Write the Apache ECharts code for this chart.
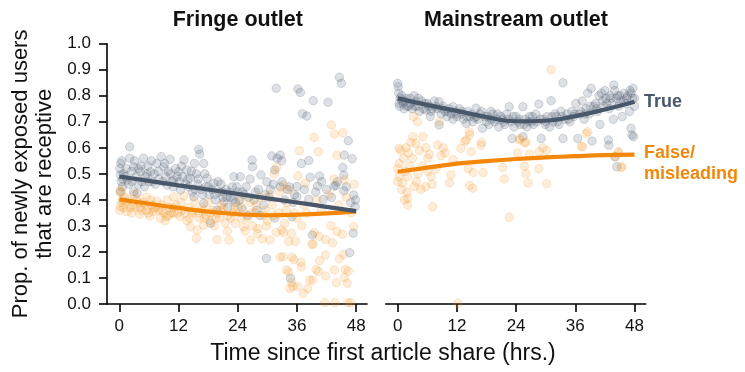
<!DOCTYPE html>
<html>
<head>
<meta charset="utf-8">
<script src="https://cdn.jsdelivr.net/npm/echarts@6/dist/echarts.min.js"></script>
<style>
  html, body { margin: 0; padding: 0; background: #fff; }
  #chart { width: 745px; height: 372px; }
</style>
</head>
<body>
<div id="chart"></div>
<script>
// Hours since the first share of an article, and the share of newly exposed users who are receptive.
const xTicks = [0, 12, 24, 36, 48];

// Fringe outlet: observed points [hours, proportion]
const fringeTrue = [
  [0.1,0.52],[0.3,0.54],[0.5,0.55],[0.2,0.496],[0.4,0.47],[0.2,0.43],[0.6,0.45],[0.8,0.50],[1.2,0.49],[1.6,0.476],
  [2.1,0.604],[2.1,0.56],[2.5,0.51],[2.9,0.527],[2.9,0.431],[3.4,0.49],[3.6,0.425],[3.9,0.52],[4.3,0.508],[4.6,0.47],
  [4.9,0.56],[5.3,0.49],[5.8,0.53],[6.3,0.508],[6.7,0.47],[7.1,0.50],[7.6,0.54],[8.0,0.48],[8.5,0.566],[9.0,0.527],
  [9.4,0.49],[9.7,0.457],[10.3,0.556],[10.3,0.50],[10.7,0.47],[11.0,0.476],[11.4,0.52],[12.0,0.508],[12.4,0.438],[12.8,0.49],
  [13.1,0.553],[13.4,0.46],[13.7,0.515],[14.1,0.45],[14.4,0.483],[14.8,0.43],[15.1,0.412],[15.2,0.54],[15.6,0.50],[15.9,0.46],
  [16.1,0.594],[16.3,0.576],[16.6,0.44],[17.1,0.54],[17.1,0.387],[17.5,0.45],[17.8,0.483],[18.2,0.42],[18.5,0.31],[18.8,0.44],
  [19.1,0.464],[19.5,0.40],[19.8,0.361],[20.2,0.43],[20.6,0.46],[21.0,0.41],[21.2,0.393],[21.6,0.44],[22.0,0.37],[22.5,0.41],
  [22.9,0.45],[23.2,0.489],[23.5,0.39],[24.0,0.43],[24.5,0.489],[24.8,0.37],[25.3,0.42],[25.7,0.45],[26.0,0.34],[26.5,0.48],
  [26.9,0.553],[27.0,0.527],[27.3,0.40],[27.8,0.36],[28.2,0.44],[28.5,0.34],[28.7,0.496],[29.2,0.38],[29.8,0.175],[29.9,0.47],
  [30.3,0.41],[30.9,0.569],[31.5,0.515],[31.5,0.33],[31.8,0.829],[32.0,0.56],[32.6,0.572],[32.6,0.45],[32.9,0.55],[33.5,0.40],
  [34.0,0.44],[34.7,0.099],[35.0,0.335],[35.5,0.42],[36.0,0.451],[36.0,0.412],[36.2,0.826],[36.7,0.813],[36.9,0.54],[37.1,0.731],
  [38.0,0.722],[38.4,0.551],[38.4,0.402],[38.7,0.487],[39.1,0.265],[39.3,0.781],[40.2,0.453],[40.6,0.492],[41.3,0.402],[42.0,0.44],
  [42.3,0.775],[43.5,0.453],[43.9,0.455],[44.6,0.871],[45.0,0.848],[45.3,0.524],[45.5,0.495],[45.5,0.435],[45.6,0.572],[46.4,0.627],
  [46.7,0.197],[46.9,0.39],[47.2,0.558],[47.4,0.272],[47.5,0.419],[47.8,0.374],
  [0.7,0.48],[1.4,0.52],[1.9,0.46],[2.6,0.47],[3.1,0.55],[3.8,0.46],[4.4,0.53],[5.1,0.45],[5.6,0.50],[6.0,0.47],
  [6.5,0.55],[7.3,0.46],[7.9,0.51],[8.8,0.47],[9.2,0.54],[9.9,0.51],[10.9,0.45],[11.7,0.49],[12.2,0.47],[12.6,0.53],
  [13.9,0.48],[14.6,0.51],[15.4,0.44],[16.0,0.48],[16.9,0.42],[17.3,0.50],[18.0,0.45],[19.3,0.42],[20.0,0.47],[20.9,0.43],
  [21.8,0.41],[22.3,0.43],[23.0,0.40],[23.8,0.45],[24.3,0.40],[25.0,0.43],[26.2,0.41],[27.6,0.43],[29.5,0.42],[30.6,0.44],
  [31.2,0.46],[33.0,0.47],[34.5,0.45],[35.2,0.39],[37.5,0.44],[39.8,0.43],[41.0,0.47],[43.0,0.41],[44.2,0.47],[46.0,0.45],
  [47.9,0.40]
];
const fringeFalse = [
  [0.2,0.438],[0.4,0.43],[0.2,0.374],[0.1,0.36],[0.6,0.40],[1.0,0.41],[1.5,0.39],[1.5,0.355],[2.2,0.37],[2.8,0.38],
  [3.0,0.42],[3.5,0.40],[4.2,0.37],[4.2,0.345],[4.8,0.39],[5.5,0.36],[5.5,0.41],[6.2,0.338],[6.6,0.38],[6.9,0.356],
  [7.3,0.37],[7.6,0.395],[8.3,0.329],[8.7,0.36],[9.3,0.32],[9.6,0.336],[9.7,0.40],[10.2,0.37],[10.6,0.35],[11.0,0.35],
  [11.0,0.412],[11.5,0.38],[12.3,0.336],[12.7,0.36],[13.1,0.415],[13.7,0.32],[14.0,0.37],[14.4,0.297],[14.8,0.35],[15.2,0.395],
  [15.6,0.252],[15.8,0.284],[16.2,0.33],[16.6,0.37],[17.1,0.303],[17.1,0.36],[17.6,0.34],[18.0,0.39],[18.4,0.32],[18.9,0.36],
  [19.3,0.30],[19.8,0.248],[19.8,0.35],[20.3,0.33],[20.7,0.38],[21.1,0.37],[21.5,0.31],[21.9,0.28],[22.2,0.246],[22.6,0.33],
  [23.0,0.35],[23.5,0.31],[24.0,0.37],[24.5,0.40],[25.0,0.36],[25.2,0.297],[25.5,0.28],[26.0,0.33],[26.5,0.39],[26.6,0.246],
  [27.0,0.30],[27.5,0.35],[28.0,0.27],[28.1,0.29],[28.5,0.41],[29.0,0.25],[29.3,0.34],[29.8,0.30],[30.0,0.32],[30.5,0.246],
  [30.5,0.42],[31.0,0.38],[31.4,0.50],[31.8,0.275],[31.9,0.525],[32.3,0.35],[32.5,0.43],[32.6,0.18],[32.9,0.284],[33.2,0.182],
  [33.3,0.457],[33.3,0.275],[33.5,0.31],[33.9,0.131],[34.0,0.39],[34.3,0.44],[34.3,0.24],[34.3,0.123],[34.6,0.06],[34.9,0.272],
  [34.9,0.082],[35.0,0.18],[35.2,0.067],[35.4,0.17],[35.7,0.24],[36.0,0.33],[36.1,0.067],[36.2,0.492],[36.5,0.589],[36.8,0.16],
  [36.9,0.143],[37.0,0.301],[37.3,0.041],[37.4,0.38],[37.7,0.464],[38.0,0.35],[38.2,0.06],[38.6,0.092],[39.0,0.23],[39.2,0.092],
  [39.3,0.23],[39.5,0.274],[39.5,0.64],[39.9,0.133],[40.0,0.40],[40.3,0.585],[40.3,0.125],[40.5,0.26],[40.6,0.167],[41.0,0.36],
  [41.6,0.005],[41.8,0.248],[41.8,0.188],[41.8,0.108],[42.5,0.42],[42.9,0.301],[43.0,0.688],[43.2,0.235],[43.5,0.48],[43.6,0.653],
  [43.6,0.131],[43.7,0.005],[44.0,0.082],[44.1,0.571],[44.1,0.278],[44.5,0.38],[44.6,0.174],[45.2,0.268],[45.3,0.658],[45.4,0.19],
  [45.6,0.477],[45.6,0.102],[45.8,0.133],[46.0,0.41],[46.2,0.08],[46.3,0.005],[46.4,0.126],[46.9,0.005],[47.0,0.35],[47.5,0.297],
  [47.6,0.46],
  [0.5,0.39],[0.9,0.37],[1.8,0.40],[2.5,0.35],[3.2,0.37],[3.9,0.39],[4.5,0.36],[5.2,0.38],[5.9,0.35],[6.4,0.40],
  [7.0,0.37],[8.0,0.36],[8.5,0.38],[9.0,0.35],[10.0,0.34],[10.9,0.37],[11.8,0.35],[12.5,0.39],[13.3,0.35],[14.2,0.33],
  [15.0,0.36],[16.0,0.35],[17.3,0.33],[18.6,0.35],[19.6,0.33],[20.5,0.36],[22.0,0.34],[23.2,0.37],[24.7,0.33],[26.8,0.35],
  [27.8,0.38],[29.6,0.36],[31.3,0.34],[33.8,0.36],[35.5,0.35]
];

// Mainstream outlet: observed points [hours, proportion]
const mainTrue = [
  [0,0.848],[0.1,0.835],[0.2,0.81],[0.3,0.771],[0.5,0.79],[0.8,0.80],[1.1,0.77],[1.5,0.78],[1.9,0.76],[2.2,0.76],
  [2.5,0.79],[2.9,0.75],[3.3,0.80],[3.7,0.777],[4.0,0.76],[4.4,0.74],[4.8,0.78],[5.2,0.75],[5.7,0.745],[6.0,0.77],
  [6.3,0.76],[6.6,0.72],[7.0,0.75],[7.4,0.78],[8.0,0.75],[8.4,0.777],[8.4,0.688],[8.8,0.73],[9.2,0.76],[9.6,0.74],
  [10.0,0.72],[10.4,0.75],[10.8,0.73],[11.2,0.758],[11.2,0.71],[11.6,0.74],[12.0,0.72],[12.5,0.75],[12.9,0.73],[13.3,0.71],
  [13.9,0.694],[14.2,0.74],[14.6,0.72],[15.0,0.73],[15.2,0.70],[15.6,0.715],[15.9,0.752],[16.3,0.71],[16.7,0.73],[17.2,0.675],
  [17.6,0.72],[18.0,0.70],[18.5,0.69],[18.9,0.74],[19.3,0.73],[19.7,0.70],[20.1,0.71],[20.5,0.68],[20.9,0.72],[21.3,0.71],
  [21.7,0.69],[22.1,0.73],[22.6,0.758],[23.0,0.70],[23.2,0.636],[23.6,0.68],[24.0,0.72],[24.4,0.70],[24.8,0.69],[25.4,0.758],
  [25.4,0.643],[25.8,0.71],[26.2,0.68],[26.7,0.72],[27.1,0.70],[27.5,0.69],[28.0,0.73],[28.2,0.70],[28.6,0.768],[29.1,0.636],
  [29.5,0.71],[29.9,0.69],[30.3,0.72],[30.8,0.68],[31.1,0.781],[31.5,0.70],[31.9,0.73],[32.2,0.72],[32.7,0.69],[33.1,0.74],
  [33.5,0.85],[33.5,0.636],[33.9,0.71],[34.3,0.73],[34.9,0.70],[35.3,0.74],[35.7,0.72],[36.1,0.77],[36.5,0.636],[36.9,0.73],
  [37.4,0.78],[37.8,0.71],[38.2,0.75],[38.5,0.81],[38.9,0.73],[39.2,0.829],[39.4,0.626],[39.8,0.76],[40.1,0.77],[40.5,0.74],
  [41.0,0.69],[41.3,0.81],[41.7,0.76],[42.2,0.79],[42.7,0.63],[42.8,0.61],[42.9,0.75],[43.0,0.80],[43.4,0.77],[43.7,0.71],
  [43.8,0.841],[44.0,0.566],[44.3,0.79],[44.4,0.527],[44.8,0.76],[45.0,0.80],[45.5,0.72],[45.8,0.78],[46.2,0.77],[46.6,0.80],
  [47.0,0.74],[47.3,0.81],[47.3,0.675],[47.5,0.649],[47.7,0.829],[47.8,0.643],[48.0,0.79],[48.0,0.76],
  [0.4,0.76],[0.9,0.78],[1.3,0.75],[1.7,0.79],[2.6,0.77],[3.5,0.76],[4.2,0.79],[5.5,0.77],[6.8,0.74],[7.7,0.76],
  [9.0,0.75],[10.2,0.74],[11.8,0.73],[13.0,0.74],[14.0,0.72],[16.0,0.72],[17.0,0.74],[18.2,0.72],[19.0,0.71],[20.3,0.73],
  [21.5,0.70],[22.4,0.71],[23.4,0.72],[24.6,0.71],[25.6,0.69],[26.5,0.70],[27.3,0.72],[28.9,0.71],[30.0,0.70],[31.3,0.72],
  [32.4,0.70],[33.3,0.72],[34.6,0.71],[35.9,0.73],[37.1,0.74],[38.0,0.73],[39.0,0.76],[40.3,0.75],[41.5,0.78],[42.4,0.77],
  [43.2,0.79],[44.0,0.82],[44.6,0.80],[45.2,0.78],[45.9,0.81],[46.4,0.79],[47.1,0.82],[47.6,0.79],[42.0,0.82],[40.8,0.80]
];
const mainFalse = [
  [0,0.52],[0,0.47],[0.3,0.598],[0.3,0.54],[0.3,0.49],[0.6,0.59],[0.8,0.44],[1.0,0.465],[1.2,0.56],[1.4,0.40],
  [1.5,0.51],[1.7,0.60],[1.9,0.43],[2.0,0.49],[2.0,0.406],[2.0,0.38],[2.2,0.58],[2.4,0.53],[2.7,0.62],[3.0,0.56],
  [3.05,0.643],[3.2,0.72],[3.4,0.451],[3.7,0.617],[3.8,0.47],[4.0,0.70],[4.1,0.50],[4.4,0.59],[4.7,0.44],[5.0,0.53],
  [5.1,0.643],[5.7,0.60],[5.7,0.45],[6.1,0.56],[6.1,0.51],[6.4,0.575],[6.8,0.49],[7.0,0.46],[7.1,0.374],[7.8,0.52],
  [8.1,0.611],[8.4,0.70],[8.8,0.57],[9.2,0.60],[9.6,0.58],[10.5,0.465],[10.8,0.496],[11.2,0.555],[12.2,0.003],[12.8,0.598],
  [13.6,0.625],[13.9,0.63],[14.3,0.52],[14.5,0.662],[14.6,0.65],[14.6,0.455],[14.9,0.585],[15.2,0.445],[15.3,0.505],[16.9,0.61],
  [17.0,0.62],[17.3,0.505],[21.3,0.525],[21.6,0.48],[22.6,0.333],[24.3,0.58],[24.7,0.635],[24.7,0.63],[25.7,0.62],[25.7,0.53],
  [26.0,0.50],[26.0,0.62],[26.4,0.465],[26.7,0.575],[28.6,0.52],[28.7,0.585],[29.4,0.60],[30.2,0.59],[30.2,0.462],[31.1,0.90],
  [37.2,0.605],[37.5,0.604],[38.2,0.655],[38.5,0.662],[44.2,0.566],[44.7,0.585],[44.8,0.581],[45.3,0.525],[45.4,0.527]
];

// Smoothed trend for each group [hours, fitted proportion]
const fringeTrueFit  = [[0,0.490],[6,0.473],[12,0.456],[18,0.440],[24,0.423],[30,0.406],[36,0.390],[42,0.373],[48,0.357]];
const fringeFalseFit = [[0,0.402],[6,0.385],[12,0.369],[18,0.355],[24,0.345],[30,0.341],[36,0.343],[42,0.348],[48,0.356]];
const mainTrueFit    = [[0,0.790],[6,0.765],[12,0.742],[18,0.718],[24,0.702],[30,0.704],[36,0.722],[42,0.747],[48,0.777]];
const mainFalseFit   = [[0,0.508],[6,0.524],[12,0.539],[18,0.549],[24,0.557],[30,0.563],[36,0.568],[42,0.572],[48,0.574]];

const FONT = '"Liberation Sans", Arial, Helvetica, sans-serif';
const TRUE_COLOR = '#48576a';
const FALSE_COLOR = '#f3870a';
const TRUE_DOT = 'rgba(80,95,115,0.24)';
const TRUE_EDGE = 'rgba(80,95,115,0.32)';
const FALSE_DOT = 'rgba(245,140,20,0.20)';
const FALSE_EDGE = 'rgba(245,140,20,0.28)';

const chart = echarts.init(document.getElementById('chart'), null, { renderer: 'canvas' });

function xAxisFor(gridIndex, min, max) {
  return {
    gridIndex, type: 'value', min, max,
    axisLine: { show: true, onZero: false, lineStyle: { color: '#000', width: 1.6 } },
    axisTick: { show: true, length: 8, customValues: xTicks, lineStyle: { color: '#000', width: 1.6 } },
    axisLabel: { customValues: xTicks, fontSize: 17, color: '#111', margin: 14, fontFamily: FONT },
    splitLine: { show: false }
  };
}

function dots(name, data, xi, fill, edge) {
  return {
    name, type: 'scatter', xAxisIndex: xi, yAxisIndex: xi, data,
    symbolSize: 8.5, silent: true,
    itemStyle: { color: fill, borderColor: edge, borderWidth: 0.8 }
  };
}

function trend(name, data, xi, color) {
  return {
    name, type: 'line', xAxisIndex: xi, yAxisIndex: xi, data,
    smooth: true, showSymbol: false, silent: true, z: 5,
    lineStyle: { color, width: 4.2, cap: 'butt' }
  };
}

const option = {
  animation: false,
  backgroundColor: '#fff',
  textStyle: { fontFamily: FONT },
  grid: [
    { left: 107, top: 43.7, width: 260, height: 260.3 },
    { left: 385.7, top: 43.7, width: 260, height: 260.3 }
  ],
  xAxis: [xAxisFor(0, -2.5, 50.2), xAxisFor(1, -2.43, 50.27)],
  yAxis: [
    {
      gridIndex: 0, type: 'value', min: 0, max: 1, interval: 0.1,
      name: 'Prop. of newly exposed users\nthat are receptive',
      nameLocation: 'middle', nameGap: 50, nameRotate: 90,
      nameTextStyle: { fontSize: 22, color: '#111', lineHeight: 24, fontFamily: FONT },
      axisLine: { show: true, onZero: false, lineStyle: { color: '#000', width: 1.6 } },
      axisTick: { show: true, length: 8, lineStyle: { color: '#000', width: 1.6 } },
      axisLabel: { fontSize: 17, color: '#111', margin: 16, fontFamily: FONT,
                   formatter: v => v.toFixed(1) },
      splitLine: { show: false }
    },
    { gridIndex: 1, type: 'value', min: 0, max: 1, interval: 0.1, show: false, splitLine: { show: false } }
  ],
  graphic: [
    { type: 'text', x: 237.8, y: 20, style: { text: 'Fringe outlet', font: 'bold 21.5px ' + FONT, fill: '#111', align: 'center', verticalAlign: 'middle' } },
    { type: 'text', x: 516, y: 20, style: { text: 'Mainstream outlet', font: 'bold 21.5px ' + FONT, fill: '#111', align: 'center', verticalAlign: 'middle' } },
    { type: 'text', x: 644, y: 102, style: { text: 'True', font: 'bold 18px ' + FONT, fill: TRUE_COLOR, align: 'left', verticalAlign: 'middle' } },
    { type: 'text', x: 644, y: 163.5, style: { text: 'False/\nmisleading', font: 'bold 18px ' + FONT, fill: FALSE_COLOR, lineHeight: 21, align: 'left', verticalAlign: 'middle' } },
    { type: 'text', x: 383, y: 354, style: { text: 'Time since first article share (hrs.)', font: '23px ' + FONT, fill: '#111', align: 'center', verticalAlign: 'middle' } }
  ],
  series: [
    dots('Fringe true', fringeTrue, 0, TRUE_DOT, TRUE_EDGE),
    dots('Fringe false', fringeFalse, 0, FALSE_DOT, FALSE_EDGE),
    dots('Mainstream true', mainTrue, 1, TRUE_DOT, TRUE_EDGE),
    dots('Mainstream false', mainFalse, 1, FALSE_DOT, FALSE_EDGE),
    trend('Fringe false trend', fringeFalseFit, 0, FALSE_COLOR),
    trend('Fringe true trend', fringeTrueFit, 0, TRUE_COLOR),
    trend('Mainstream false trend', mainFalseFit, 1, FALSE_COLOR),
    trend('Mainstream true trend', mainTrueFit, 1, TRUE_COLOR)
  ]
};

chart.setOption(option);
</script>
</body>
</html>
